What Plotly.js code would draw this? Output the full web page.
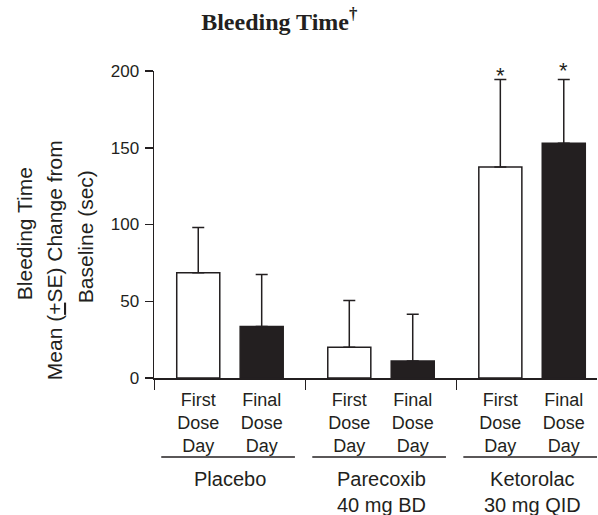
<!DOCTYPE html>
<html>
<head>
<meta charset="utf-8">
<script src="https://cdn.plot.ly/plotly-3.0.1.min.js"></script>
<style>html,body{margin:0;padding:0;background:#fff;}#chart{width:598px;height:515px;}</style>
</head>
<body>
<div id="chart"></div>
<script>
// ---- data ----
const groups = ['Placebo', 'Parecoxib<br>40 mg BD', 'Ketorolac<br>30 mg QID'];
const doseDays = ['First<br>Dose<br>Day', 'Final<br>Dose<br>Day'];
const firstDayMean = [68.5, 20, 137.5];
const finalDayMean = [33.5, 11, 153];
const firstDaySE = [29.5, 30.5, 57];
const finalDaySE = [34, 30.5, 41.5];
const firstDaySig = [false, false, true];
const finalDaySig = [false, false, true];
const yTicks = [0, 50, 100, 150, 200];
const titleText = 'Bleeding Time<sup>†</sup>';
const yTitleLines = ['Bleeding Time', 'Mean (<u>+</u>SE) Change from', 'Baseline (sec)'];

// ---- layout constants ----
const OFF = 0.21, BARW = 0.285;
const INK = '#231f20';
const SANS = 'Liberation Sans, Arial, sans-serif';
const gIdx = groups.map((_, i) => i);
const xFirst = gIdx.map(g => g - OFF);
const xFinal = gIdx.map(g => g + OFF);

const errStyle = {type: 'data', symmetric: false, color: INK, thickness: 1.5, width: 6};

const traces = [
  {type: 'bar', x: xFirst, y: firstDayMean, width: BARW,
   marker: {color: '#ffffff', line: {color: INK, width: 1.5}},
   error_y: Object.assign({array: firstDaySE, arrayminus: firstDaySE.map(() => 0)}, errStyle),
   hoverinfo: 'none'},
  {type: 'bar', x: xFinal, y: finalDayMean, width: BARW,
   marker: {color: INK, line: {color: INK, width: 1.5}},
   error_y: Object.assign({array: finalDaySE, arrayminus: finalDaySE.map(() => 0)}, errStyle),
   hoverinfo: 'none'}
];

const xRange = [-0.503, 2.43];
const tickPos = [];
const tickTxt = [];
gIdx.forEach(g => { tickPos.push(xFirst[g], xFinal[g]); tickTxt.push(doseDays[0], doseDays[1]); });

// invisible trace so the label axis is drawn
traces.push({type: 'scatter', mode: 'none', x: tickPos, y: tickPos.map(() => 0), xaxis: 'x2', yaxis: 'y', hoverinfo: 'none'});

const annotations = [];
// significance stars (placed at top of each significant error bar)
const starLift = [4, 9]; // first-day star, final-day star (px)
gIdx.forEach(g => {
  if (firstDaySig[g]) annotations.push({text: '*', xref: 'x', yref: 'y', x: xFirst[g], y: firstDayMean[g] + firstDaySE[g],
    yshift: starLift[0], xanchor: 'center', yanchor: 'middle', showarrow: false, font: {family: SANS, size: 22, color: INK}});
  if (finalDaySig[g]) annotations.push({text: '*', xref: 'x', yref: 'y', x: xFinal[g], y: finalDayMean[g] + finalDaySE[g],
    yshift: starLift[1], xanchor: 'center', yanchor: 'middle', showarrow: false, font: {family: SANS, size: 22, color: INK}});
});
gIdx.forEach(g => annotations.push({
  text: groups[g], xref: 'x', yref: 'paper', x: g, y: -0.287, yanchor: 'top', xanchor: 'center',
  showarrow: false, font: {family: SANS, size: 20, color: INK}
}));
const yTitlePos = [[-0.293, 0.469], [-0.2255, 0.384], [-0.1555, 0.459]];
yTitleLines.forEach((t, i) => annotations.push({
  text: t, xref: 'paper', yref: 'paper', x: yTitlePos[i][0], y: yTitlePos[i][1],
  xanchor: 'center', yanchor: 'middle', textangle: -90, showarrow: false,
  font: {family: SANS, size: 21, color: INK}
}));

const shapes = gIdx.map(g => ({type: 'line', xref: 'x', yref: 'paper',
  x0: g - 0.455, x1: g + 0.43, y0: -0.2573, y1: -0.2573, line: {color: INK, width: 1.5}}));

const layout = {
  width: 598, height: 515,
  margin: {l: 154, r: 1, t: 71, b: 137},
  paper_bgcolor: '#fff', plot_bgcolor: '#fff',
  showlegend: false,
  barmode: 'overlay',
  title: {text: titleText, font: {family: 'Liberation Serif, Times New Roman, serif', size: 24, color: INK, weight: 'bold'},
    xref: 'container', x: 0.467, xanchor: 'center', yref: 'container', y: 0.959, yanchor: 'middle'},
  xaxis: {range: xRange, showline: true, linecolor: INK, linewidth: 1.5, tickvals: [-0.5, 0.5, 1.5],
    ticks: 'outside', ticklen: 10, tickwidth: 1.5, tickcolor: INK, showticklabels: false,
    showgrid: false, zeroline: false, fixedrange: true},
  xaxis2: {range: xRange, overlaying: 'x', side: 'bottom', showline: false, tickvals: tickPos, ticktext: tickTxt,
    ticks: 'outside', ticklen: 5, tickcolor: 'rgba(0,0,0,0)', tickfont: {family: SANS, size: 18, color: INK},
    showgrid: false, zeroline: false, fixedrange: true},
  yaxis: {range: [0, 200], tickvals: yTicks, showline: true, linecolor: INK, linewidth: 1.5,
    ticks: 'outside', ticklen: 8, tickwidth: 1.5, tickcolor: INK, ticklabelstandoff: 2,
    tickfont: {family: SANS, size: 17, color: INK}, showgrid: false, zeroline: false, fixedrange: true},
  annotations: annotations,
  shapes: shapes
};

Plotly.newPlot('chart', traces, layout, {displayModeBar: false, staticPlot: true});
</script>
</body>
</html>
